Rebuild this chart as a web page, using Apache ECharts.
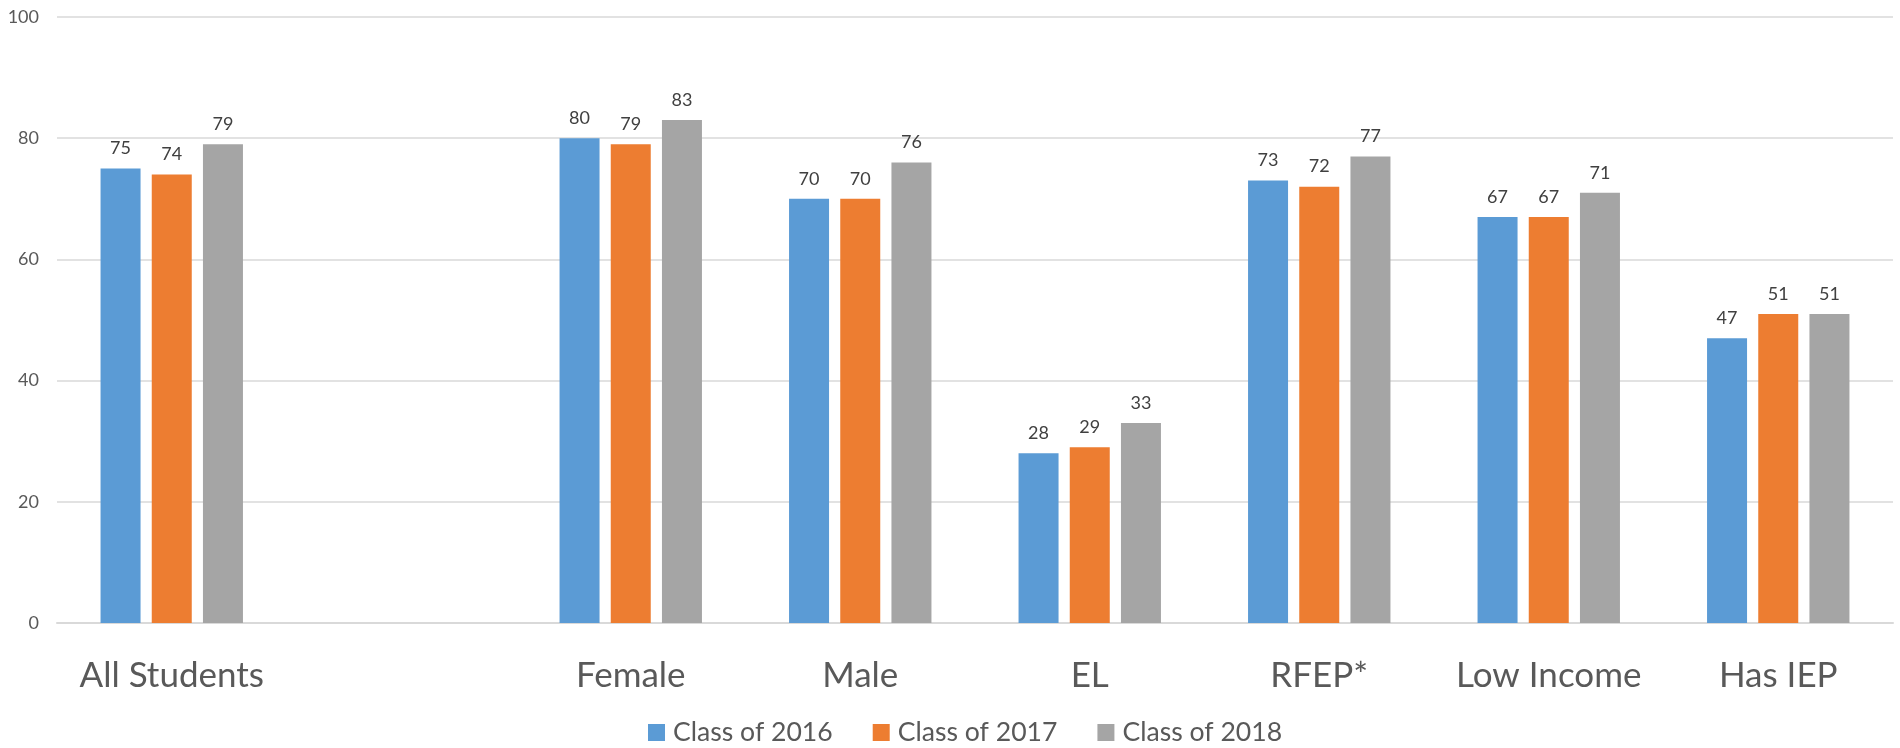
<!DOCTYPE html>
<html>
<head>
<meta charset="utf-8">
<script src="https://cdn.jsdelivr.net/npm/echarts@6/dist/echarts.min.js"></script>
<style>html,body{margin:0;padding:0;background:#fff}#c{width:1900px;height:748px}</style>
</head>
<body>
<div id="c"></div>
<script>
const categories = ['All Students', '', 'Female', 'Male', 'EL', 'RFEP*', 'Low Income', 'Has IEP'];
const seriesNames = ['Class of 2016', 'Class of 2017', 'Class of 2018'];
const class2016 = [75, null, 80, 70, 28, 73, 67, 47];
const class2017 = [74, null, 79, 70, 29, 72, 67, 51];
const class2018 = [79, null, 83, 76, 33, 77, 71, 51];
const yTicks = [0, 20, 40, 60, 80, 100];
const colors = ['#5B9BD5', '#ED7D31', '#A5A5A5'];

const font = 'Lato, "Open Sans", sans-serif';
const chart = echarts.init(document.getElementById('c'));
const mk = (name, data, i) => ({
  name, type: 'bar', data,
  barWidth: 40, barGap: '28%',
  itemStyle: { color: colors[i] },
  label: { show: true, position: 'top', distance: 11, color: '#404040', fontSize: 18, fontFamily: font },
  animation: false
});
chart.setOption({
  animation: false,
  textStyle: { fontFamily: font },
  grid: { left: 57, right: 7, top: 17, bottom: 125, containLabel: false },
  legend: {
    bottom: -3, left: 643, itemWidth: 17, itemHeight: 17, itemGap: 40,
    icon: 'rect',
    textStyle: { fontSize: 26.6, color: '#595959', fontFamily: font, padding: [0, 0, 0, 3] },
    data: seriesNames
  },
  xAxis: {
    type: 'category', data: categories,
    axisLine: { lineStyle: { color: '#d9d9d9', width: 2 } },
    axisTick: { show: false },
    axisLabel: { fontSize: 35, color: '#595959', margin: 35, fontFamily: font, interval: 0 }
  },
  yAxis: {
    type: 'value', min: yTicks[0], max: yTicks[yTicks.length - 1], interval: 20,
    axisLine: { show: false }, axisTick: { show: false },
    splitLine: { lineStyle: { color: '#d9d9d9', width: 1.5 } },
    axisLabel: { fontSize: 18, color: '#595959', margin: 18, fontFamily: font }
  },
  series: [mk(seriesNames[0], class2016, 0), mk(seriesNames[1], class2017, 1), mk(seriesNames[2], class2018, 2)]
});
</script>
</body>
</html>
